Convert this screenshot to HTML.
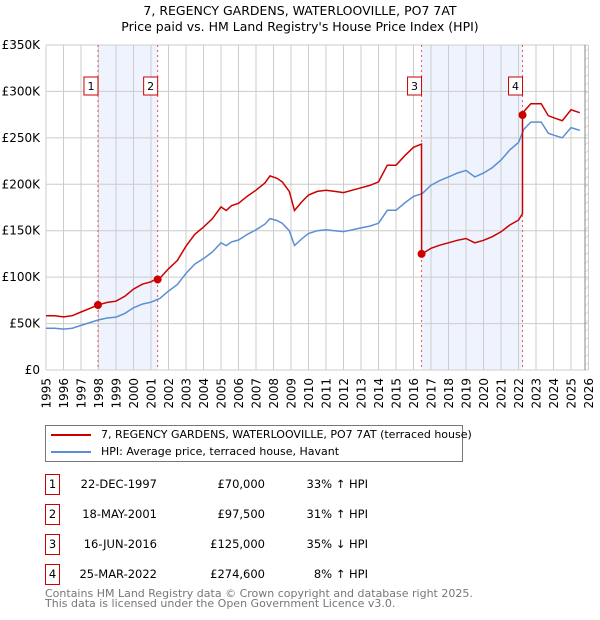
<!DOCTYPE html>
<html><head><meta charset="utf-8"><style>
body{margin:0;background:#fff;font-family:"DejaVu Sans","Liberation Sans",sans-serif;}
#wrap{position:relative;width:600px;height:620px;overflow:hidden}
.t{position:absolute;font-size:11.5px;color:#000;white-space:nowrap}
.box{position:absolute;width:13px;height:19px;border:1px solid #c00;text-align:center;line-height:19px;font-size:11.5px}
</style></head><body>
<div id="wrap">
<div class="t" style="left:0;width:600px;text-align:center;top:3px;font-size:12.5px">7, REGENCY GARDENS, WATERLOOVILLE, PO7 7AT</div>
<div class="t" style="left:0;width:600px;text-align:center;top:19px;font-size:12.5px">Price paid vs. HM Land Registry's House Price Index (HPI)</div>
<svg id="chart" width="600" height="420" style="position:absolute;left:0;top:0"></svg>
<div style="position:absolute;left:45px;top:425px;width:416px;height:35px;border:1px solid #777">
<div style="position:absolute;left:5px;top:2px;font-size:11px;white-space:nowrap"><span style="display:inline-block;width:40px;height:2px;background:#c00;vertical-align:middle;margin-right:10px"></span>7, REGENCY GARDENS, WATERLOOVILLE, PO7 7AT (terraced house)</div>
<div style="position:absolute;left:5px;top:19px;font-size:11px;white-space:nowrap"><span style="display:inline-block;width:40px;height:2px;background:#5b8fd4;vertical-align:middle;margin-right:10px"></span>HPI: Average price, terraced house, Havant</div>
</div>
<div id="rows"></div>
<div class="t" style="left:45px;top:589px;font-size:11px;color:#777;line-height:10px">Contains HM Land Registry data © Crown copyright and database right 2025.<br>This data is licensed under the Open Government Licence v3.0.</div>
</div>
<script>
const hpiYears=[1995,1995.5,1996,1996.5,1997,1997.5,1998,1998.5,1999,1999.5,2000,2000.5,2001,2001.5,2002,2002.5,2003,2003.5,2004,2004.5,2005,2005.3,2005.6,2006,2006.5,2007,2007.5,2007.8,2008.2,2008.5,2008.9,2009.2,2009.6,2010,2010.5,2011,2011.5,2012,2012.5,2013,2013.5,2014,2014.5,2015,2015.5,2016,2016.5,2017,2017.5,2018,2018.5,2019,2019.5,2020,2020.5,2021,2021.5,2022,2022.3,2022.7,2023,2023.3,2023.7,2024,2024.5,2025,2025.5];
const hpiValues=[45,45,44,45,48,51,54,56,57,61,67,71,73,77,85,92,104,114,120,127,137,134,138,140,146,151,157,163,161,158,150,134,141,147,150,151,150,149,151,153,155,158,172,172,180,187,190,199,204,208,212,215,208,212,218,226,237,245,259,267,267,267,255,253,250,261,258];
const saleYears=[1997.97,2001.38,2016.46,2022.23];
const salePrices=[70000,97500,125000,274600];
const saleLabels=["1","2","3","4"];
const saleDates=["22-DEC-1997","18-MAY-2001","16-JUN-2016","25-MAR-2022"];
const salePriceText=["£70,000","£97,500","£125,000","£274,600"];
const saleHpiText=["33% ↑ HPI","31% ↑ HPI","35% ↓ HPI","8% ↑ HPI"];
const yTicks=[0,50,100,150,200,250,300,350];
const yTickLabels=["£0","£50K","£100K","£150K","£200K","£250K","£300K","£350K"];

const NS="http://www.w3.org/2000/svg";
const svg=document.getElementById('chart');
const X=y=>46+(y-1995)*17.5;
const Y=v=>370-v*46.43/50;
function el(tag,a,p){const e=document.createElementNS(NS,tag);for(const k in a)e.setAttribute(k,a[k]);(p||svg).appendChild(e);return e;}
function hpiAt(t){for(let i=0;i<hpiYears.length-1;i++){if(t<=hpiYears[i+1]){const f=(t-hpiYears[i])/(hpiYears[i+1]-hpiYears[i]);return hpiValues[i]+f*(hpiValues[i+1]-hpiValues[i]);}}return hpiValues[hpiValues.length-1];}
for(let i=0;i<4;i+=2){const r=el('rect',{x:X(saleYears[i]),y:45,width:X(saleYears[i+1])-X(saleYears[i]),height:325,fill:'#eef3fd'});

}
for(let yr=1995;yr<=2026;yr++){const l=el('line',{x1:X(yr),x2:X(yr),y1:45,y2:370,stroke:'#cccccc','stroke-width':1});


const t=el('text',{x:0,y:0,'text-anchor':'end','font-size':'12','font-family':'DejaVu Sans, sans-serif',transform:'translate('+(X(yr)+4.5)+',378) rotate(-90)'});t.textContent=yr;

}
yTicks.forEach((v,i)=>{const l=el('line',{x1:46,x2:588,y1:Y(v),y2:Y(v),stroke:'#cccccc','stroke-width':1});


const t=el('text',{x:40,y:Y(v)+4,'text-anchor':'end','font-size':'12','font-family':'DejaVu Sans, sans-serif'});t.textContent=yTickLabels[i];

});
const defs=el('defs',{});const pat=el('pattern',{id:'h',width:6,height:6,patternUnits:'userSpaceOnUse',patternTransform:'rotate(45)'},defs);
el('line',{x1:0,y1:0,x2:0,y2:6,stroke:'#bbb','stroke-width':1},pat);
const hx=X(2025.8);
const hr=el('rect',{x:hx,y:45,width:588-hx,height:325,fill:'url(#h)'});


const hl=el('line',{x1:hx,x2:hx,y1:45,y2:370,stroke:'#888'});


saleYears.forEach((s,i)=>{const l=el('line',{x1:X(s),x2:X(s),y1:45,y2:370,stroke:'#e55','stroke-width':1,'stroke-dasharray':'2,3'});


const g=el('g',{});


el('rect',{x:X(s)-14,y:77,width:14,height:18,fill:'#fff',stroke:'#c00'},g);
const t=el('text',{x:X(s)-7,y:90,'text-anchor':'middle','font-size':'11','font-family':'DejaVu Sans, sans-serif'},g);t.textContent=saleLabels[i];});
let d='';hpiYears.forEach((y,i)=>{d+=(i?'L':'M')+X(y).toFixed(1)+','+Y(hpiValues[i]).toFixed(1);});
const hp=el('path',{d:d,fill:'none',stroke:'#5b8fd4','stroke-width':1.5});


function redAt(t){let k=0;for(let i=0;i<saleYears.length;i++)if(t>=saleYears[i])k=i;return salePrices[k]/1000*hpiAt(t)/hpiAt(saleYears[k]);}
let pts=[];hpiYears.forEach(y=>pts.push(y));saleYears.forEach(s=>{pts.push(s-0.001);pts.push(s);});pts.sort((a,b)=>a-b);
let d2='';pts.forEach((t,i)=>{d2+=(i?'L':'M')+X(t).toFixed(1)+','+Y(redAt(t)).toFixed(1);});
const rp=el('path',{d:d2,fill:'none',stroke:'#cc0000','stroke-width':1.5});


saleYears.forEach((s,i)=>{const c=el('circle',{cx:X(s),cy:Y(salePrices[i]/1000),r:4,fill:'#cc0000'});

});
const rows=document.getElementById('rows');
saleLabels.forEach((lab,i)=>{const top=474+i*30;
const r=document.createElement('div');


r.innerHTML='<div class="box" style="left:45px;top:'+top+'px">'+lab+'</div>'+
'<div class="t" style="left:60px;width:97px;text-align:right;top:'+(top+3)+'px">'+saleDates[i]+'</div>'+
'<div class="t" style="left:170px;width:95px;text-align:right;top:'+(top+3)+'px">'+salePriceText[i]+'</div>'+
'<div class="t" style="left:270px;width:98px;text-align:right;top:'+(top+3)+'px">'+saleHpiText[i]+'</div>';
rows.appendChild(r);});
</script>
</body></html>
